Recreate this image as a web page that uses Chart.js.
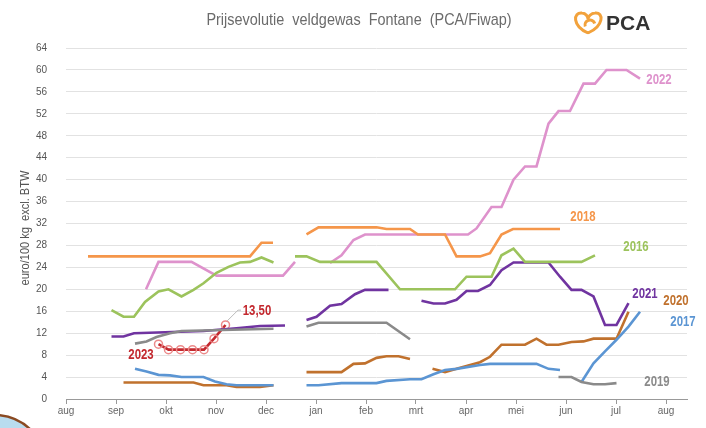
<!DOCTYPE html>
<html>
<head>
<meta charset="utf-8">
<script src="https://cdn.jsdelivr.net/npm/chart.js@4/dist/chart.umd.min.js"></script>
<style>
html, body { margin: 0; padding: 0; background: #fff; }
</style>
</head>
<body>
<canvas id="chartPrijs" width="706" height="428"></canvas>
<script>
// maanden (x = maanden sinds 1 augustus)
const maanden = ["aug", "sep", "okt", "nov", "dec", "jan", "feb", "mrt", "apr", "mei", "jun", "jul", "aug"];
const yMax = 64;
const yStap = 4;

// prijzen euro/100 kg, null = onderbreking
const t2018 = [0.44, 3.68, 3.91, 4.14, 4.5, 4.81, 5.05, 6.21, 6.41, 6.88, 7.04, 7.58, 7.81, 8.28, 8.48, 8.71, 8.94, 9.88];
const p2018 = [26, 26, 28.5, 28.5, null, 30, 31.3, 31.3, 31, 31, 30, 30, 26, 26, 26.6, 30, 31, 31];

const t2022 = [1.6, 1.85, 2.51, 3.01, 4.34, 4.58, 4.9, 5.28, 5.51, 5.75, 5.98, 8.04, 8.21, 8.51, 8.71, 8.95, 9.18, 9.41, 9.65, 9.85, 10.08, 10.35, 10.58, 10.81, 11.21, 11.48];
const p2022 = [20, 25, 25, 22.5, 22.5, 25, null, 24.8, 26.2, 29, 30, 30, 31.1, 35, 35, 40, 42.4, 42.4, 50.2, 52.5, 52.5, 57.5, 57.5, 60, 60, 58.4];

const t2016 = [0.91, 1.15, 1.36, 1.58, 1.85, 2.05, 2.31, 2.55, 2.75, 3.01, 3.25, 3.48, 3.68, 3.91, 4.15, 4.4, 4.58, 4.81, 5.08, 6.21, 6.68, 7.78, 8.01, 8.51, 8.71, 8.95, 9.18, 10.31, 10.58];
const p2016 = [16.2, 15, 15, 17.7, 19.6, 20, 18.7, 19.9, 21.1, 23, 24.1, 24.9, 25, 25.8, 24.9, null, 26, 26, 25, 25, 20, 20, 22.3, 22.3, 26.2, 27.4, 25, 25, 26.2];

const t2021 = [0.91, 1.15, 1.36, 2.75, 3.41, 3.88, 4.38, 4.6, 4.81, 5.01, 5.28, 5.51, 5.78, 5.98, 6.45, 6.8, 7.11, 7.35, 7.58, 7.81, 8.01, 8.24, 8.48, 8.71, 8.95, 9.65, 9.88, 10.11, 10.31, 10.55, 10.78, 11.01, 11.25];
const p2021 = [11.4, 11.4, 12, 12.4, 12.9, 13.3, 13.4, null, 14.4, 15, 17, 17.3, 19.1, 19.9, 19.9, null, 17.9, 17.4, 17.4, 18.1, 19.7, 19.7, 20.8, 23.5, 24.9, 24.9, 22.3, 19.9, 19.9, 18.7, 13.5, 13.5, 17.5];

const t2023 = [1.85, 2.05, 2.29, 2.53, 2.76, 2.96, 3.19];
const p2023 = [10, 9, 9, 9, 9, 11, 13.5];

const t2019 = [1.38, 1.61, 1.81, 2.08, 2.31, 4.15, 4.5, 4.81, 5.05, 6.41, 6.88, 8.5, 9.85, 10.11, 10.31, 10.55, 10.78, 11.01];
const p2019 = [10.1, 10.5, 11.3, 12, 12.4, 12.8, null, 13.2, 13.9, 13.9, 10.9, null, 4, 4, 3.1, 2.7, 2.7, 2.9];

const t2020 = [1.15, 2.55, 2.75, 3.21, 3.41, 3.88, 4.15, 4.5, 4.81, 5.51, 5.75, 5.98, 6.21, 6.41, 6.65, 6.88, 7.1, 7.33, 7.58, 7.81, 8.01, 8.28, 8.48, 8.71, 9.18, 9.41, 9.61, 9.85, 10.11, 10.35, 10.55, 11.01, 11.25];
const p2020 = [3, 3, 2.5, 2.5, 2.2, 2.2, 2.5, null, 4.9, 4.9, 6.4, 6.5, 7.5, 7.8, 7.8, 7.3, null, 5.5, 4.9, 5.5, 6, 6.7, 7.7, 9.9, 9.9, 11, 9.9, 9.9, 10.4, 10.5, 11, 11, 15.9];

const t2017 = [1.38, 1.61, 1.85, 2.08, 2.31, 2.75, 2.98, 3.21, 3.41, 4.15, 4.5, 4.81, 5.05, 5.51, 6.21, 6.41, 6.88, 7.11, 7.35, 7.58, 7.81, 8.28, 8.48, 9.41, 9.65, 9.88, 10.1, 10.31, 10.55, 10.78, 11.01, 11.25, 11.48];
const p2017 = [5.5, 5, 4.4, 4.3, 4, 4, 3.2, 2.7, 2.5, 2.5, null, 2.5, 2.5, 2.9, 2.9, 3.3, 3.6, 3.6, 4.5, 5.3, 5.5, 6.2, 6.4, 6.4, 5.5, 5.3, null, 3.1, 6.5, 8.7, 10.8, 13.2, 15.9];

const punten = (t, p) => t.map((x, i) => ({ x: x, y: p[i] }));

const lijn = (label, t, p, kleur) => ({
    label: label,
    data: punten(t, p),
    borderColor: kleur,
    backgroundColor: kleur,
    borderWidth: 2.6,
    pointRadius: 0,
    tension: 0,
    spanGaps: false,
});

const kleuren = {
    "2016": "#9cc35c",
    "2017": "#5b95d3",
    "2018": "#f5964a",
    "2019": "#8a8a8a",
    "2020": "#c0712d",
    "2021": "#7034a0",
    "2022": "#de92cc",
    "2023": "#c3282e",
};

const letter = "'Liberation Sans', sans-serif";

// jaartallen naast de lijnen
const jaarTekst = [
    { text: "2022", x: 11.86, y: 58.1, c: kleuren["2022"] },
    { text: "2018", x: 10.34, y: 33.3, c: kleuren["2018"] },
    { text: "2016", x: 11.4, y: 27.7, c: kleuren["2016"] },
    { text: "2021", x: 11.58, y: 19.1, c: kleuren["2021"] },
    { text: "2020", x: 12.2, y: 17.9, c: kleuren["2020"] },
    { text: "2017", x: 12.34, y: 14.0, c: kleuren["2017"] },
    { text: "2019", x: 11.82, y: 3.1, c: kleuren["2019"] },
    { text: "2023", x: 1.5, y: 8.0, c: kleuren["2023"] },
    { text: "13,50", x: 3.82, y: 16.0, c: kleuren["2023"] },
];

// smalle tekst (condensed) door horizontaal te schalen
const smalTekst = (ctx, tekst, x, y, font, kleur, schaal) => {
    ctx.save();
    ctx.translate(x, y);
    ctx.scale(schaal, 1);
    ctx.font = font;
    ctx.fillStyle = kleur;
    ctx.textAlign = "center";
    ctx.textBaseline = "middle";
    ctx.fillText(tekst, 0, 0);
    ctx.restore();
};

const extraPlugin = {
    id: "extra",
    beforeDraw(chart) {
        const ctx = chart.ctx;
        ctx.save();
        // cirkel linksonder
        ctx.beginPath();
        ctx.arc(-6, 468, 53, 0, Math.PI * 2);
        ctx.fillStyle = "#b9dcef";
        ctx.fill();
        ctx.lineWidth = 2.5;
        ctx.strokeStyle = "#8a4a22";
        ctx.stroke();
        ctx.restore();
    },
    afterDraw(chart) {
        const ctx = chart.ctx;
        const x = chart.scales.x;
        const y = chart.scales.y;
        ctx.save();

        // titel
        smalTekst(ctx, "Prijsevolutie  veldgewas  Fontane  (PCA/Fiwap)", 359, 20, "17px " + letter, "#6b6b6b", 0.85);

        // logo PCA
        ctx.strokeStyle = "#f2a23c";
        ctx.lineWidth = 3;
        ctx.beginPath();
        ctx.moveTo(588, 33);
        ctx.bezierCurveTo(572, 26, 573, 12, 582, 13);
        ctx.bezierCurveTo(586, 13, 588, 17, 588, 19);
        ctx.bezierCurveTo(588, 17, 591, 13, 595, 13);
        ctx.bezierCurveTo(604, 12, 604, 26, 588, 33);
        ctx.stroke();
        ctx.beginPath();
        ctx.arc(590, 25, 5, Math.PI * 0.9, Math.PI * 1.9);
        ctx.stroke();
        ctx.fillStyle = "#333";
        ctx.font = "bold 21px " + letter;
        ctx.textAlign = "left";
        ctx.textBaseline = "middle";
        ctx.fillText("PCA", 606, 24);

        // y-as titel
        ctx.save();
        ctx.translate(25, 228);
        ctx.rotate(-Math.PI / 2);
        smalTekst(ctx, "euro/100 kg  excl. BTW", 0, 0, "13px " + letter, "#555", 0.85);
        ctx.restore();

        // lijntje naar 13,50
        ctx.strokeStyle = "#bbb";
        ctx.lineWidth = 1;
        ctx.beginPath();
        ctx.moveTo(x.getPixelForValue(3.22), y.getPixelForValue(14.2));
        ctx.lineTo(x.getPixelForValue(3.44), y.getPixelForValue(16.2));
        ctx.lineTo(x.getPixelForValue(3.5), y.getPixelForValue(16.2));
        ctx.stroke();

        // jaartallen
        jaarTekst.forEach((l) => {
            smalTekst(ctx, l.text, x.getPixelForValue(l.x), y.getPixelForValue(l.y), "bold 15px " + letter, l.c, 0.76);
        });
        ctx.restore();
    },
};

const ds2023 = lijn("2023", t2023, p2023, kleuren["2023"]);
ds2023.pointRadius = 4;
ds2023.pointStyle = "circle";
ds2023.pointBorderColor = "#ec8a8a";
ds2023.pointBackgroundColor = "rgba(255,255,255,0)";
ds2023.pointBorderWidth = 1.5;

new Chart(document.getElementById("chartPrijs"), {
    type: "line",
    data: {
        datasets: [
            lijn("2019", t2019, p2019, kleuren["2019"]),
            lijn("2017", t2017, p2017, kleuren["2017"]),
            lijn("2020", t2020, p2020, kleuren["2020"]),
            lijn("2016", t2016, p2016, kleuren["2016"]),
            lijn("2018", t2018, p2018, kleuren["2018"]),
            lijn("2021", t2021, p2021, kleuren["2021"]),
            lijn("2022", t2022, p2022, kleuren["2022"]),
            ds2023,
        ],
    },
    options: {
        responsive: false,
        animation: false,
        layout: { padding: { left: 0, right: 19, top: 48, bottom: 0 } },
        plugins: {
            legend: { display: false },
            tooltip: { enabled: false },
        },
        scales: {
            x: {
                type: "linear",
                min: 0,
                max: 12.42,
                afterBuildTicks: (scale) => {
                    scale.ticks = maanden.map((m, i) => ({ value: i }));
                },
                afterFit: (scale) => { scale.height = 29; },
                ticks: {
                    callback: (v) => maanden[v],
                    color: "#666",
                    font: { size: 10, family: letter },
                    padding: 1,
                    maxRotation: 0,
                    autoSkip: false,
                },
                grid: { drawOnChartArea: false, drawTicks: true, tickLength: 5, color: "#999" },
                border: { display: true, color: "#999", width: 1 },
            },
            y: {
                min: 0,
                max: yMax,
                afterFit: (scale) => { scale.width = 66; },
                ticks: {
                    stepSize: yStap,
                    color: "#555",
                    font: { size: 10, family: letter },
                    padding: 19,
                },
                grid: { color: "#e2e2e2", lineWidth: 1, drawTicks: false },
                border: { display: false },
            },
        },
    },
    plugins: [extraPlugin],
});
</script>
</body>
</html>
